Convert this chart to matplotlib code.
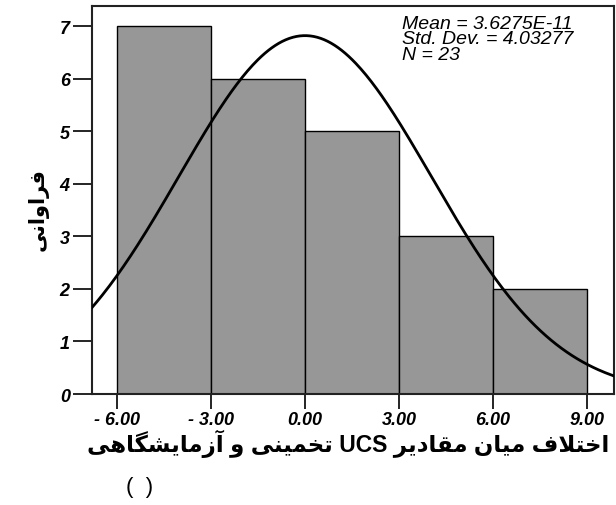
import re
import numpy as np
import matplotlib
matplotlib.use('Agg')
import matplotlib.pyplot as plt

# histogram data
bin_edges = [-6.0, -3.0, 0.0, 3.0, 6.0, 9.0]
counts = [7, 6, 5, 3, 2]
x_tick_labels = ['- 6.00', '- 3.00', '0.00', '3.00', '6.00', '9.00']
y_ticks = [0, 1, 2, 3, 4, 5, 6, 7]

# descriptive stats shown in the corner
mean_txt = '3.6275E-11'
mean_val = float(mean_txt)
std_val = 4.03277
n_val = 23

x_label = 'اختلاف میان مقادیر UCS تخمینی و آزمایشگاهی'
y_label = 'فراوانی'

# minimal arabic/persian shaping (matplotlib does no text layout for RTL scripts)
# forms: isolated, final, initial, medial
FORMS = {
    'ا': ('\uFE8D', '\uFE8E', None, None),
    'آ': ('\uFE81', '\uFE82', None, None),
    'د': ('\uFEA9', '\uFEAA', None, None),
    'ر': ('\uFEAD', '\uFEAE', None, None),
    'ز': ('\uFEAF', '\uFEB0', None, None),
    'و': ('\uFEED', '\uFEEE', None, None),
    'LA': ('\uFEFB', '\uFEFC', None, None),
    'خ': ('\uFEA5', '\uFEA6', '\uFEA7', '\uFEA8'),
    'ت': ('\uFE95', '\uFE96', '\uFE97', '\uFE98'),
    'ل': ('\uFEDD', '\uFEDE', '\uFEDF', '\uFEE0'),
    'ف': ('\uFED1', '\uFED2', '\uFED3', '\uFED4'),
    'م': ('\uFEE1', '\uFEE2', '\uFEE3', '\uFEE4'),
    'ی': ('\uFBFC', '\uFBFD', '\uFBFE', '\uFBFF'),
    'ن': ('\uFEE5', '\uFEE6', '\uFEE7', '\uFEE8'),
    'ق': ('\uFED5', '\uFED6', '\uFED7', '\uFED8'),
    'ش': ('\uFEB5', '\uFEB6', '\uFEB7', '\uFEB8'),
    'گ': ('\uFB92', '\uFB93', '\uFB94', '\uFB95'),
    'ه': ('\uFEE9', '\uFEEA', '\uFEEB', '\uFEEC'),
}


def shape(text):
    toks = []
    i = 0
    while i < len(text):
        if text[i] == 'ل' and i + 1 < len(text) and text[i + 1] == 'ا':
            toks.append('LA')
            i += 2
        else:
            toks.append(text[i])
            i += 1
    out = []
    for i, t in enumerate(toks):
        if t not in FORMS:
            out.append(t)
            continue
        f = FORMS[t]
        prev = toks[i - 1] if i > 0 else None
        nxt = toks[i + 1] if i + 1 < len(toks) else None
        jp = prev in FORMS and FORMS[prev][2] is not None
        jn = f[2] is not None and nxt in FORMS
        if jp and jn:
            out.append(f[3])
        elif jp:
            out.append(f[1])
        elif jn:
            out.append(f[2])
        else:
            out.append(f[0])
    return ''.join(out)


def visual(text):
    s = shape(text)[::-1]
    return re.sub(r'[A-Za-z0-9.]+', lambda m: m.group(0)[::-1], s)


fig = plt.figure(figsize=(6.16, 5.06), dpi=100)
ax = fig.add_axes([92 / 616, 1 - 395 / 506, 522 / 616, 388 / 506])

widths = np.diff(bin_edges)
ax.bar(bin_edges[:-1], counts, width=widths, align='edge',
       color='#979797', edgecolor='black', linewidth=1.0, zorder=2)

# normal curve for the stated mean / std dev, scaled to counts
xs = np.linspace(-6.8, 9.86, 300)
bw = widths[0]
curve = n_val * bw / (std_val * np.sqrt(2 * np.pi)) * np.exp(-0.5 * ((xs - mean_val) / std_val) ** 2)
ax.plot(xs, curve, color='black', linewidth=2.0, zorder=3)

ax.set_xlim(-6.8, 9.86)
ax.set_ylim(0, 7.39)

for sp in ax.spines.values():
    sp.set_linewidth(1.5)
    sp.set_color('#222222')

tick_font = dict(family=['Liberation Sans', 'DejaVu Sans'], weight='bold', style='italic', size=13)
ax.set_xticks(bin_edges)
ax.set_xticklabels(x_tick_labels, fontdict=tick_font)
ax.set_yticks(y_ticks)
ax.set_yticklabels([str(v) for v in y_ticks], fontdict=tick_font)
ax.tick_params(axis='x', direction='out', length=11, width=1.2, pad=1)
ax.tick_params(axis='y', direction='out', length=14, width=1.2, pad=2)

stats = f'Mean = {mean_txt}\nStd. Dev. = {std_val}\nN = {n_val}'
ax.text(0.594, 0.978, stats, transform=ax.transAxes, va='top', ha='left', linespacing=0.92,
        family=['Liberation Sans', 'DejaVu Sans'], style='italic', size=14)

fig.text(348 / 616, 1 - 444 / 506, visual(x_label), ha='center', va='center',
         family=['Liberation Sans', 'DejaVu Sans'], weight='bold', size=16.5)
fig.text(140 / 616, 1 - 488 / 506, '(  )', ha='center', va='center',
         family=['Liberation Sans', 'DejaVu Sans'], size=16)
fig.text(38 / 616, 1 - 210 / 506, visual(y_label), ha='center', va='center', rotation=90,
         family=['Liberation Sans', 'DejaVu Sans'], weight='bold', size=15)

fig.savefig('out.png', dpi=100)
